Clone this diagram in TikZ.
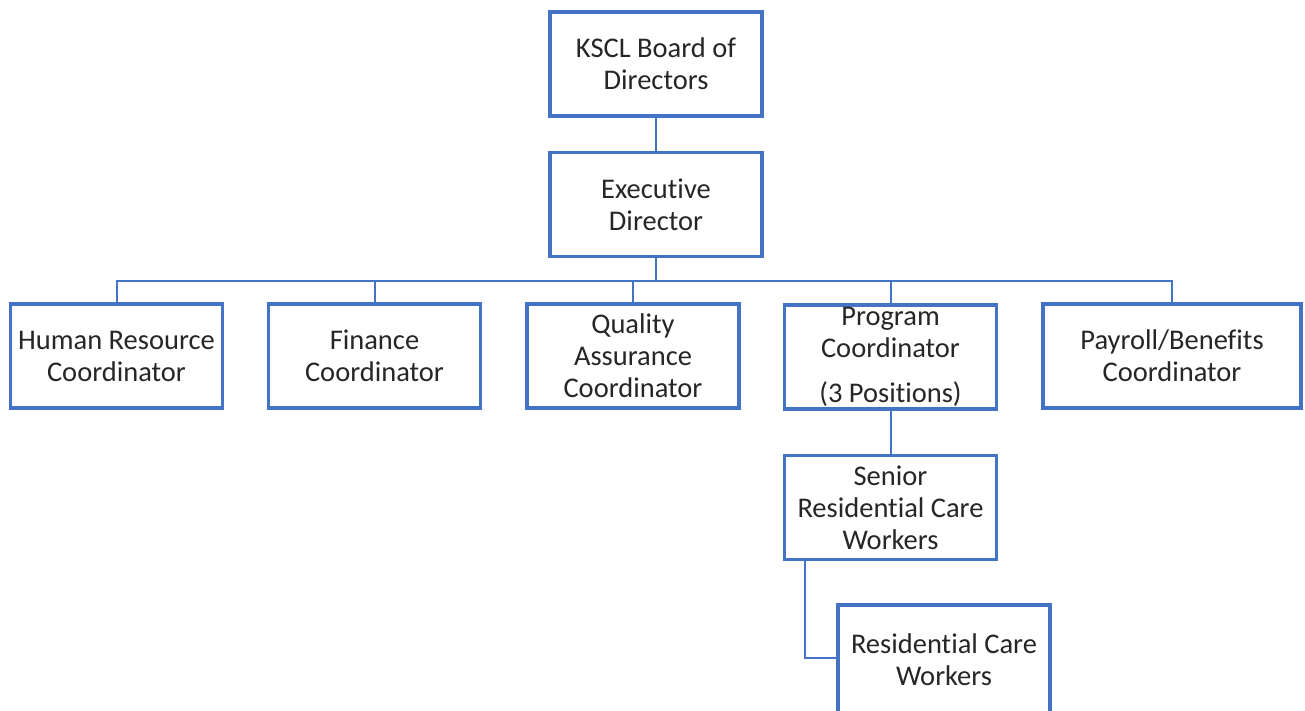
\documentclass[tikz,border=0pt]{standalone}
\usepackage{fontspec}
\setmainfont{Carlito}[Ligatures=NoCommon]
\definecolor{obl}{HTML}{4472C4}
\begin{document}
\begin{tikzpicture}[x=1pt,y=-1pt,
  box/.style={draw=obl,line width=3.5pt,fill=white,minimum width=212pt,minimum height=104pt,
    inner sep=0pt,align=center,font=\fontsize{28.5}{32}\selectfont,text=black!85},
  conn/.style={draw=obl,line width=2pt}]
\useasboundingbox (0,0) rectangle (1305,711);
\node[box] (board) at (656,64) {KSCL Board of\\Directors};
\node[box] (exec) at (656,204.5) {Executive\\Director};
\node[box] (hr) at (116.5,356) {Human Resource\\Coordinator};
\node[box] (fin) at (374.5,356) {Finance\\Coordinator};
\node[box] (qa) at (633,356) {Quality\\Assurance\\Coordinator};
\node[box] (prog) at (890.5,357) {Program\\Coordinator\\[13pt](3 Positions)};
\node[box] (senior) at (890.5,507.5) {Senior\\Residential Care\\Workers};
\node[box,minimum width=258pt] (pay) at (1172,356) {Payroll/Benefits\\Coordinator};
\node[box,minimum height=110pt] (res) at (944,660) {Residential Care\\Workers};
\coordinate (bus) at (656,281);
\draw[conn] (board) -- (exec);
\draw[conn] (exec.south) -- (bus);
\draw[conn] (hr.north) |- (bus) -| (pay.north);
\draw[conn] (fin.north) -- (fin.north |- bus);
\draw[conn] (qa.north) -- (qa.north |- bus);
\draw[conn] (prog.north) -- (prog.north |- bus);
\draw[conn] (prog) -- (senior);
\draw[conn] (senior.south west) ++(22,0) |- (res.west |- 0,658);
\end{tikzpicture}
\end{document}
